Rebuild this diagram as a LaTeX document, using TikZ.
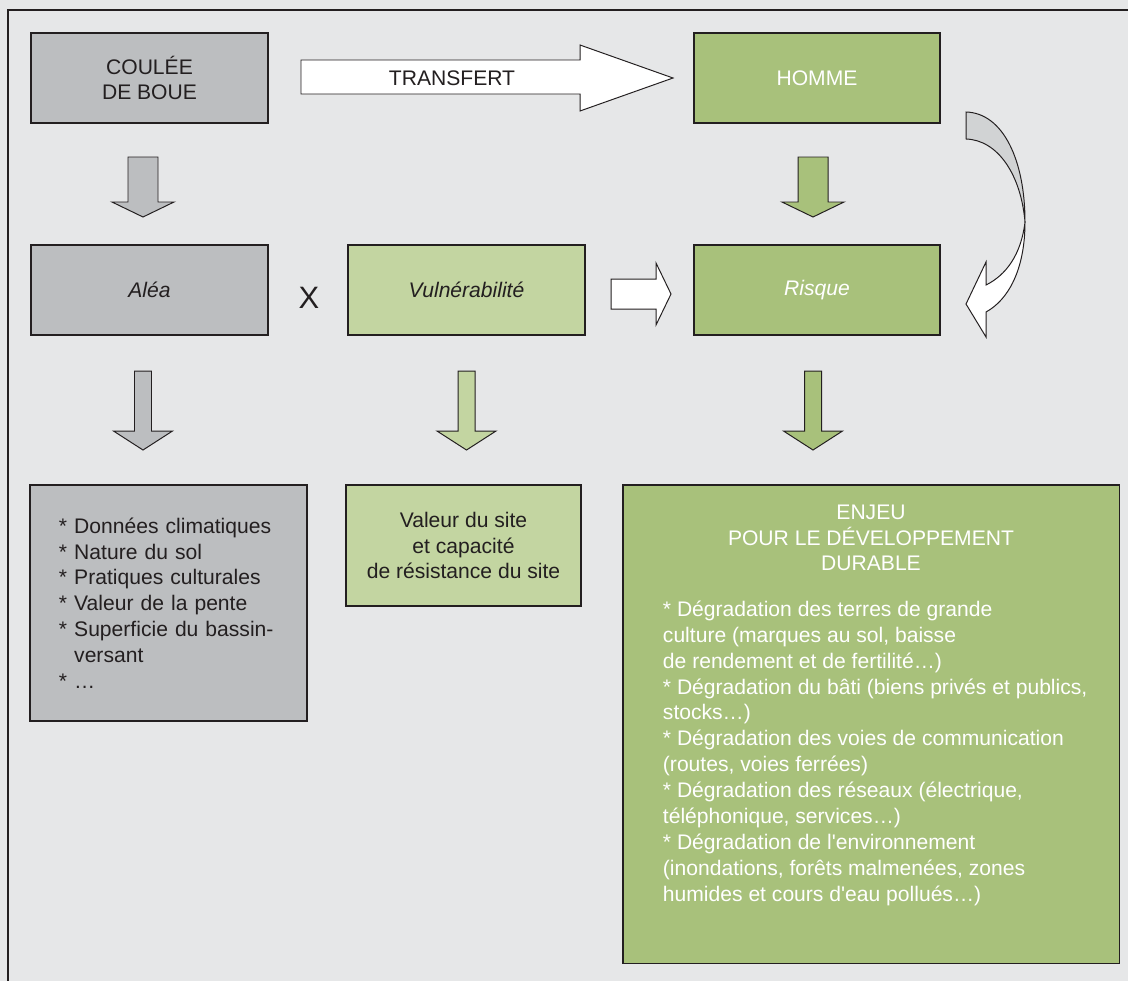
\documentclass[tikz,border=0pt]{standalone}
\usepackage{fontspec}
\setmainfont{Liberation Sans}[Ligatures=TeXOff]
\usepackage{tikz}
\usetikzlibrary{positioning}
\definecolor{fond}{HTML}{E6E7E8}
\definecolor{gris}{HTML}{BCBEC0}
\definecolor{grisclair}{HTML}{D1D3D4}
\definecolor{vert}{HTML}{A8C17B}
\definecolor{vertclair}{HTML}{C3D5A1}
\definecolor{trait}{HTML}{231F20}
\tikzset{
  boite/.style={draw=trait, line width=0.8pt, inner sep=0pt, text=trait, font=\fontsize{15pt}{18.4pt}\selectfont},
  fleche/.style={draw=trait, line width=0.7pt, line join=miter},
  texte/.style={text=trait, inner sep=0pt, font=\fontsize{15pt}{18.4pt}\selectfont}
}

\begin{document}
\begin{tikzpicture}[x=0.025cm,y=-0.025cm]
%Background
\useasboundingbox (0,0) rectangle (1128,981);
\fill[fond] (0,0) rectangle (1128,981);
\draw[trait, line width=1pt] (1128,10) -- (8,10) -- (8,981);

%Row 1
\node[boite, fill=gris, minimum width=5.925cm, minimum height=2.25cm, align=center] (coulee) at (149.5,78) {COULÉE\\ DE BOUE};
\node[boite, fill=vert, text=white, minimum width=6.15cm, minimum height=2.25cm] (homme) at (817,78) {HOMME};
\draw[fleche, fill=white] (301,60) -- (580,60) -- (580,45) -- (673,78) -- (580,111) -- (580,94) -- (301,94) -- cycle;
\node[texte] (transfert) at (452,78) {TRANSFERT};

%Row 2
\node[boite, fill=gris, minimum width=5.925cm, minimum height=2.25cm] (alea) at (149.5,290) {\itshape Aléa};
\node[texte, font=\fontsize{22pt}{24pt}\selectfont] (fois) at (309,298) {X};
\node[boite, fill=vertclair, minimum width=5.925cm, minimum height=2.25cm] (vulnerabilite) at (466.5,290) {\itshape Vulnérabilité};
\node[boite, fill=vert, text=white, minimum width=6.15cm, minimum height=2.25cm] (risque) at (817,290) {\itshape Risque};
\draw[fleche, fill=white] (611,279) -- (656,279) -- (656,263) -- (671,294) -- (656,325) -- (656,309) -- (611,309) -- cycle;

% curved arrow HOMME -> Risque
\draw[fleche, fill=grisclair] (966,112) .. controls (1003,113) and (1025,160) .. (1025,222)
  .. controls (1021,175) and (998,140) .. (966,139) -- cycle;
\draw[fleche, fill=white] (1025,222) .. controls (1025,270) and (1008,300) .. (986,312)
  -- (986,337) -- (966,304) -- (986,262) -- (986,285)
  .. controls (1006,275) and (1021,255) .. (1025,222);

% down arrows
\foreach \x/\c in {143/gris, 813/vert}
\draw[fleche, fill=\c, shift={(\x,157)}] (-15,0) -- (15,0) -- (15,45) -- (31,45) -- (0,60) -- (-31,45) -- (-15,45) -- cycle;
\foreach \x/\c in {143/gris, 466.5/vertclair, 813/vert}
\draw[fleche, fill=\c, shift={(\x,371)}] (-8.5,0) -- (8.5,0) -- (8.5,60) -- (29.5,60) -- (0,79) -- (-29.5,60) -- (-8.5,60) -- cycle;

%Row 3
\node[boite, fill=gris, minimum width=6.925cm, minimum height=5.9cm, text width=5.475cm, align=left] (facteurs) at (168.5,603)
  {{*} Données climatiques\\ {*} Nature du sol\\ {*} Pratiques culturales\\ {*} Valeur de la pente\\ {*} Superficie du bassin-\\ \hphantom{*} versant\\ {*} …};
\node[boite, fill=vertclair, minimum width=5.875cm, minimum height=3.025cm, align=center] (valeur) at (463.5,545.5)
  {Valeur du site\\ et capacité\\ de résistance du site};
\node[boite, fill=vert, text=white, minimum width=12.4cm, minimum height=11.95cm] (enjeu) at (871,724)
  {\parbox[c][11.95cm][t]{11.2cm}{\vspace*{14pt}%
   {\centering ENJEU\\ POUR LE DÉVELOPPEMENT\\ DURABLE\par}
   \vspace{14pt}
   {\raggedright\leftskip=0.4cm
    {*} Dégradation des terres de grande\\ culture (marques au sol, baisse\\ de rendement et de fertilité…)\\
    {*} Dégradation du bâti (biens privés et publics,\\ stocks…)\\
    {*} Dégradation des voies de communication\\ (routes, voies ferrées)\\
    {*} Dégradation des réseaux (électrique,\\ téléphonique, services…)\\
    {*} Dégradation de l'environnement\\ (inondations, forêts malmenées, zones\\ humides et cours d'eau pollués…)\par}}};

\end{tikzpicture}
\end{document}
